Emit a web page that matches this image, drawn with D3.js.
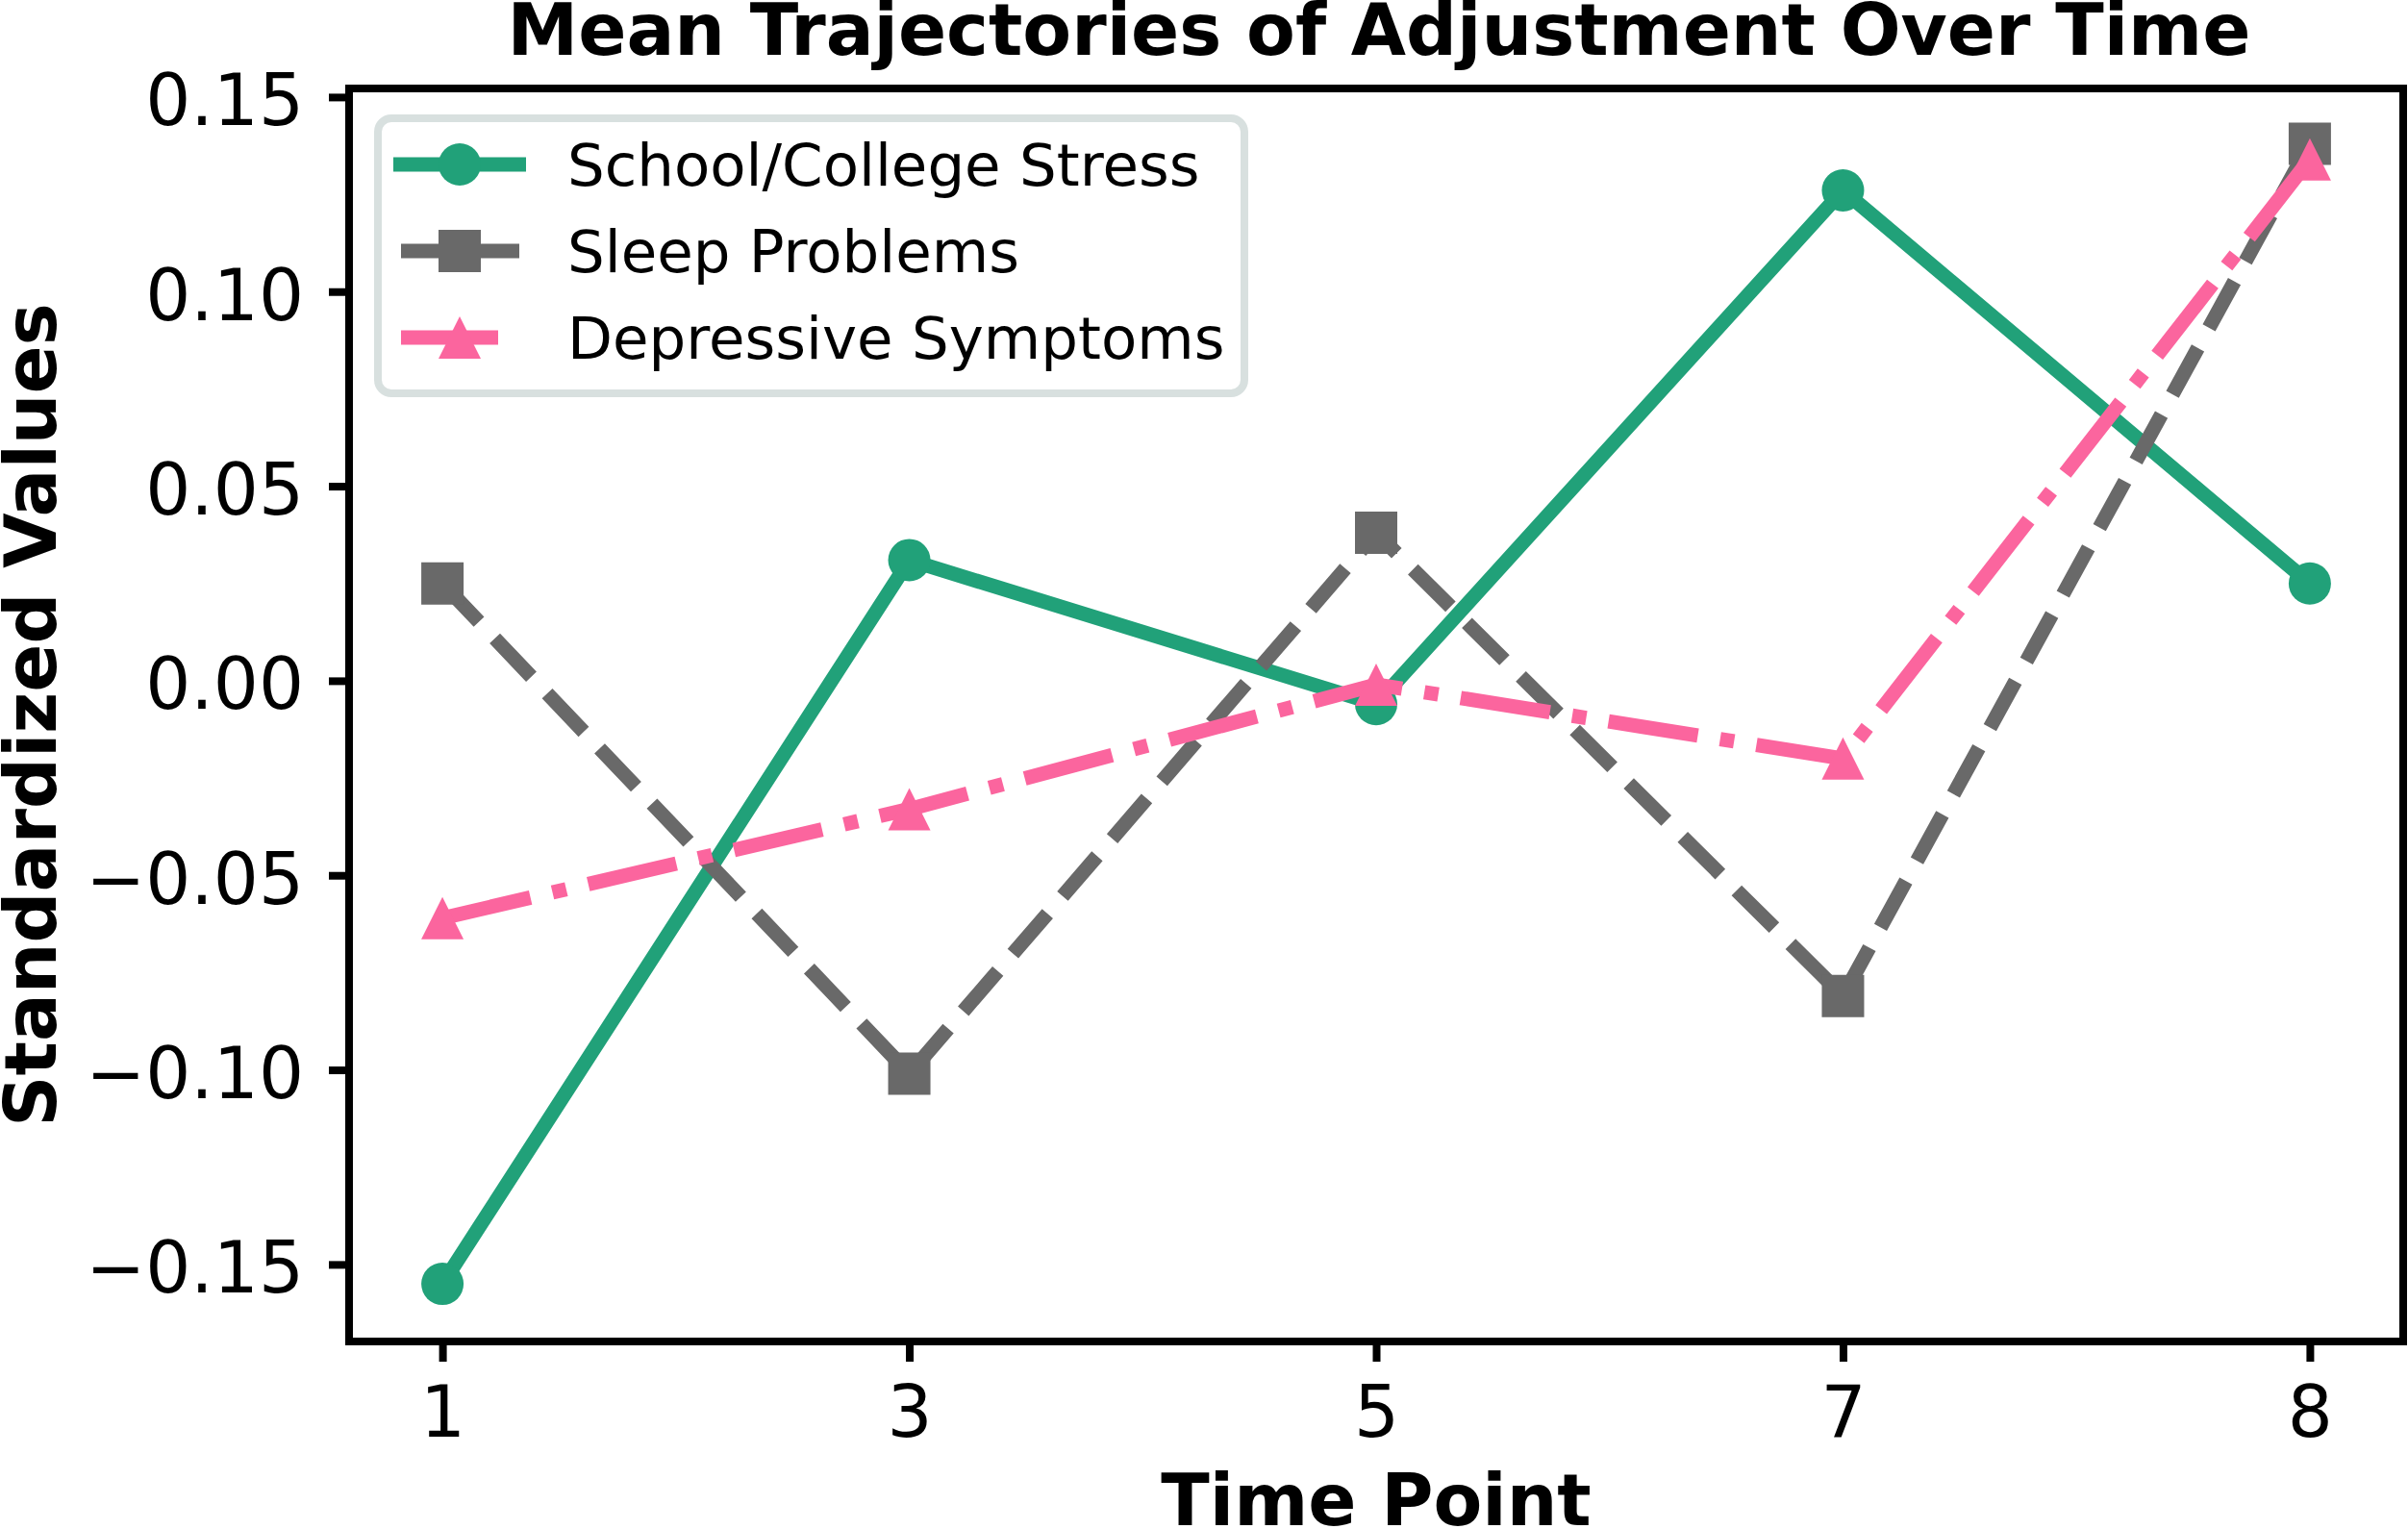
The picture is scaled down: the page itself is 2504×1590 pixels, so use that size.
<!DOCTYPE html>
<html>
<head>
<meta charset="utf-8">
<script src="https://cdn.jsdelivr.net/npm/d3@7"></script>
<style>
  body { margin: 0; background: #fff; }
  svg { display: block; font-family: "DejaVu Sans", sans-serif; }
</style>
</head>
<body>
<svg id="chart" width="2504" height="1590"></svg>
<script>
// data
const timePoints = ['1', '3', '5', '7', '8']
const schoolStress = [-0.155, 0.031, -0.006, 0.126, 0.025]
const sleepProblems = [0.025, -0.101, 0.038, -0.081, 0.138]
const depressive = [-0.061, -0.033, -0.001, -0.020, 0.134]
const yTicks = [-0.15, -0.10, -0.05, 0.00, 0.05, 0.10, 0.15]
const seriesNames = ['School/College Stress', 'Sleep Problems', 'Depressive Symptoms']

// styles
const colors = ['#21a179', '#696969', '#fb659e']
const dashes = ['none', '55,24', '94,23.5,14.7,23.5']
const legendDashes = ['none', '55,24', 'none']
const legendSpan = [[409, 547], [417, 540], [417, 518]]
const markers = ['circle', 'square', 'triangle']

const svg = d3.select('#chart')
const W = +svg.attr('width'), H = +svg.attr('height')

const plot = {left: 363, right: 2499, top: 92, bottom: 1395}

const x = d3.scalePoint()
  .domain(timePoints)
  .range([plot.left, plot.right])
  .padding(0.2)

const y = d3.scaleLinear()
  .domain([-0.1698, 0.1522])
  .range([plot.bottom, plot.top])

const markerPath = (type) => {
  const s = 22
  if (type === 'circle') return d3.symbol(d3.symbolCircle, Math.PI * s * s)()
  if (type === 'square') return `M${-s},${-s}H${s}V${s}H${-s}Z`
  return `M0,${-s}L${s},${s}L${-s},${s}Z`
}

svg.append('rect').attr('width', W).attr('height', H).attr('fill', '#fff')

// axes
const xAxis = svg.append('g')
  .attr('transform', `translate(0,${plot.bottom})`)
  .call(d3.axisBottom(x).tickSize(21))
xAxis.select('.domain').remove()
xAxis.selectAll('line').attr('stroke', '#000').attr('stroke-width', 8)
xAxis.selectAll('text')
  .attr('y', 99).attr('dy', null)
  .attr('font-size', 74).attr('fill', '#000')
  .attr('font-family', 'DejaVu Sans')

const yAxis = svg.append('g')
  .attr('transform', `translate(${plot.left},0)`)
  .call(d3.axisLeft(y).tickValues(yTicks).tickFormat(d3.format('.2f')).tickSize(21))
yAxis.select('.domain').remove()
yAxis.selectAll('line').attr('stroke', '#000').attr('stroke-width', 8)
yAxis.selectAll('text')
  .attr('x', -47).attr('dy', 29)
  .attr('font-size', 74).attr('fill', '#000')
  .attr('font-family', 'DejaVu Sans')

// lines + markers
const allSeries = [schoolStress, sleepProblems, depressive]
const line = d3.line().x((d, i) => x(timePoints[i])).y(d => y(d))

allSeries.forEach((vals, k) => {
  const g = svg.append('g')
  g.append('path')
    .attr('d', line(vals))
    .attr('fill', 'none')
    .attr('stroke', colors[k])
    .attr('stroke-width', 15)
    .attr('stroke-dasharray', dashes[k])
    .attr('stroke-linejoin', 'round')
    .attr('stroke-linecap', k === 0 ? 'square' : 'butt')
  g.selectAll('.mk').data(vals).enter().append('path')
    .attr('class', 'mk')
    .attr('transform', (d, i) => `translate(${x(timePoints[i])},${y(d)})`)
    .attr('d', markerPath(markers[k]))
    .attr('fill', colors[k])
})

// frame
svg.append('rect')
  .attr('x', plot.left).attr('y', plot.top)
  .attr('width', plot.right - plot.left).attr('height', plot.bottom - plot.top)
  .attr('fill', 'none').attr('stroke', '#000').attr('stroke-width', 8)

// legend
const legend = svg.append('g')
legend.append('rect')
  .attr('x', 393).attr('y', 123).attr('width', 901).attr('height', 286)
  .attr('rx', 14).attr('fill', '#fff')
  .attr('stroke', '#d8e0df').attr('stroke-width', 8)

seriesNames.forEach((name, k) => {
  const cy = 171 + k * 90
  legend.append('line')
    .attr('x1', legendSpan[k][0]).attr('x2', legendSpan[k][1])
    .attr('y1', cy).attr('y2', cy)
    .attr('stroke', colors[k]).attr('stroke-width', 15)
    .attr('stroke-dasharray', legendDashes[k])
  legend.append('path')
    .attr('transform', `translate(478,${cy})`)
    .attr('d', markerPath(markers[k]))
    .attr('fill', colors[k])
  legend.append('text')
    .attr('x', 590).attr('y', cy + 22)
    .attr('font-size', 61)
    .text(name)
})

// titles
svg.append('text')
  .attr('x', (plot.left + plot.right) / 2 + 3).attr('y', 57)
  .attr('text-anchor', 'middle')
  .attr('font-size', 74).attr('font-weight', 'bold')
  .text('Mean Trajectories of Adjustment Over Time')

svg.append('text')
  .attr('x', (plot.left + plot.right) / 2).attr('y', 1586)
  .attr('text-anchor', 'middle')
  .attr('font-size', 74).attr('font-weight', 'bold')
  .text('Time Point')

svg.append('text')
  .attr('transform', `translate(58,${(plot.top + plot.bottom) / 2}) rotate(-90)`)
  .attr('text-anchor', 'middle')
  .attr('font-size', 74).attr('font-weight', 'bold')
  .text('Standardized Values')
</script>
</body>
</html>
